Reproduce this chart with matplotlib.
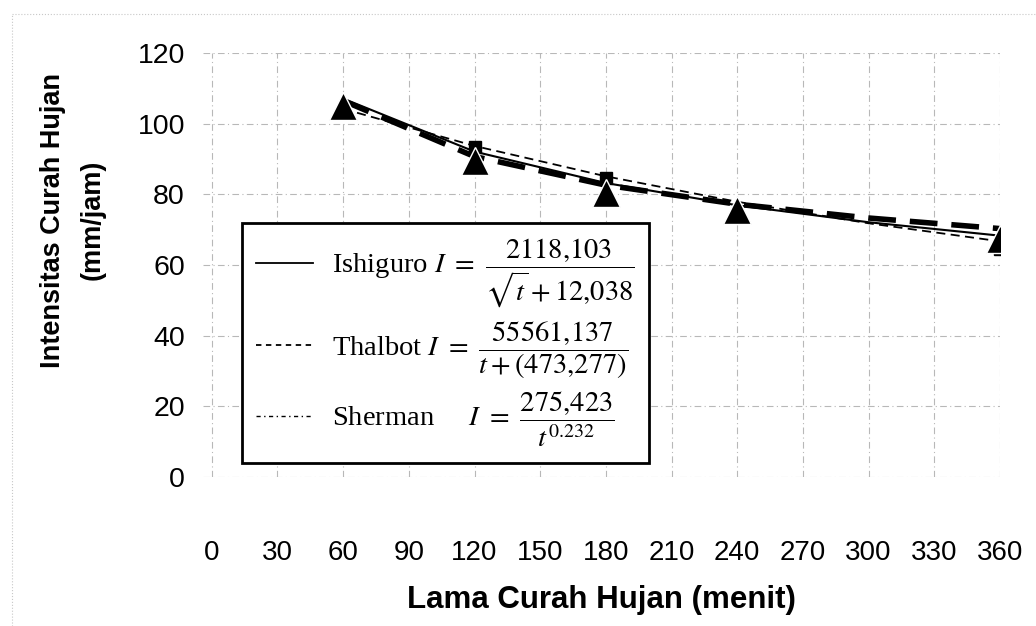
import matplotlib
matplotlib.use('Agg')
import matplotlib.pyplot as plt
from matplotlib.lines import Line2D

plt.rcParams['mathtext.fontset'] = 'stix'

# data
durasi = [60, 120, 180, 240, 360]
observasi = [105, 89.5, 80.5, 75.5, 67.5]

t_fit = [60, 120, 180, 240, 300, 360]
ishiguro = [107.1, 92.1, 83.2, 76.9, 72.1, 68.3]
thalbot = [104.2, 93.7, 85.1, 77.9, 71.8, 66.7]
sherman = [106.5, 90.7, 82.6, 77.2, 73.3, 70.3]

x_ticks = list(range(0, 361, 30))
y_ticks = list(range(0, 121, 20))

label_ishiguro = r'Ishiguro $I\ =\ \dfrac{2118{,}103}{\sqrt{t}+12{,}038}$'
label_thalbot = r'Thalbot $I\ =\ \dfrac{55561{,}137}{t+\left(473{,}277\right)}$'
label_sherman = r'Sherman     $I\ =\ \dfrac{275{,}423}{t^{0.232}}$'

fig = plt.figure(figsize=(10.36, 6.26), dpi=100)
ax = fig.add_axes([203/1036, 1-477/626, 797/1036, 424/626])

ax.plot(t_fit, sherman, color='black', lw=4, dashes=(5, 2.5), zorder=3)
ax.plot(t_fit, thalbot, color='black', lw=1.3, dashes=(5, 3), zorder=3)
ax.plot([120, 180, 360], [93.5, 84.5, 64.5], 's', color='black', ms=8, zorder=4)
ax.plot(t_fit, ishiguro, color='black', lw=1.5, zorder=4)
ax.plot(durasi, observasi, '^', color='black', ms=20, mec='white', mew=1, zorder=5)

ax.set_xlim(-4, 360)
ax.set_ylim(0, 120)
ax.set_xticks(x_ticks)
ax.set_yticks(y_ticks)
for s in ax.spines.values():
    s.set_visible(False)
ax.tick_params(length=0)
ax.tick_params(axis='x', pad=45)
ax.tick_params(axis='y', pad=13)
for lab in ax.get_xticklabels():
    lab.set_family('Liberation Sans')
    lab.set_fontsize(20)
for lab in ax.get_yticklabels():
    lab.set_family('Liberation Sans')
    lab.set_fontsize(20.5)
ax.grid(True, color='#b8b8b8', lw=0.8, ls=(0, (6, 3, 1, 3)))
ax.set_axisbelow(True)

fig.text(601/1036, 1-600/626, 'Lama Curah Hujan (menit)', ha='center', va='center',
         fontsize=22.5, fontweight='bold', family='Liberation Sans')
fig.text(73/1036, 1-220/626, 'Intensitas Curah Hujan\n(mm/jam)', ha='center', va='center',
         rotation=90, fontsize=19.5, fontweight='bold', family='Liberation Sans',
         linespacing=1.65)

handles = [Line2D([], [], color='black', lw=1.3),
           Line2D([], [], color='black', lw=1.3, dashes=(3, 2.5)),
           Line2D([], [], color='black', lw=1.0, dashes=(3, 2.5, 1, 2.5))]
leg = ax.legend(handles, [label_ishiguro, label_thalbot, label_sherman],
                loc='upper left', bbox_to_anchor=(39/797, 254/424), borderaxespad=0,
                prop={'family': 'Liberation Serif', 'size': 20.5},
                handlelength=2.0, handletextpad=0.65, labelspacing=0.3, borderpad=0.5,
                fancybox=False, framealpha=1, edgecolor='black')
leg.get_frame().set_linewidth(2)
leg.set_zorder(6)

# faint scan border of the chart area
fig.add_artist(Line2D([12/1036, 1], [1-14/626, 1-14/626], color='#c8c8c8', lw=0.8, ls=':'))
fig.add_artist(Line2D([12/1036, 12/1036], [0, 1-14/626], color='#c8c8c8', lw=0.8, ls=':'))

fig.savefig('out.png', dpi=100)
